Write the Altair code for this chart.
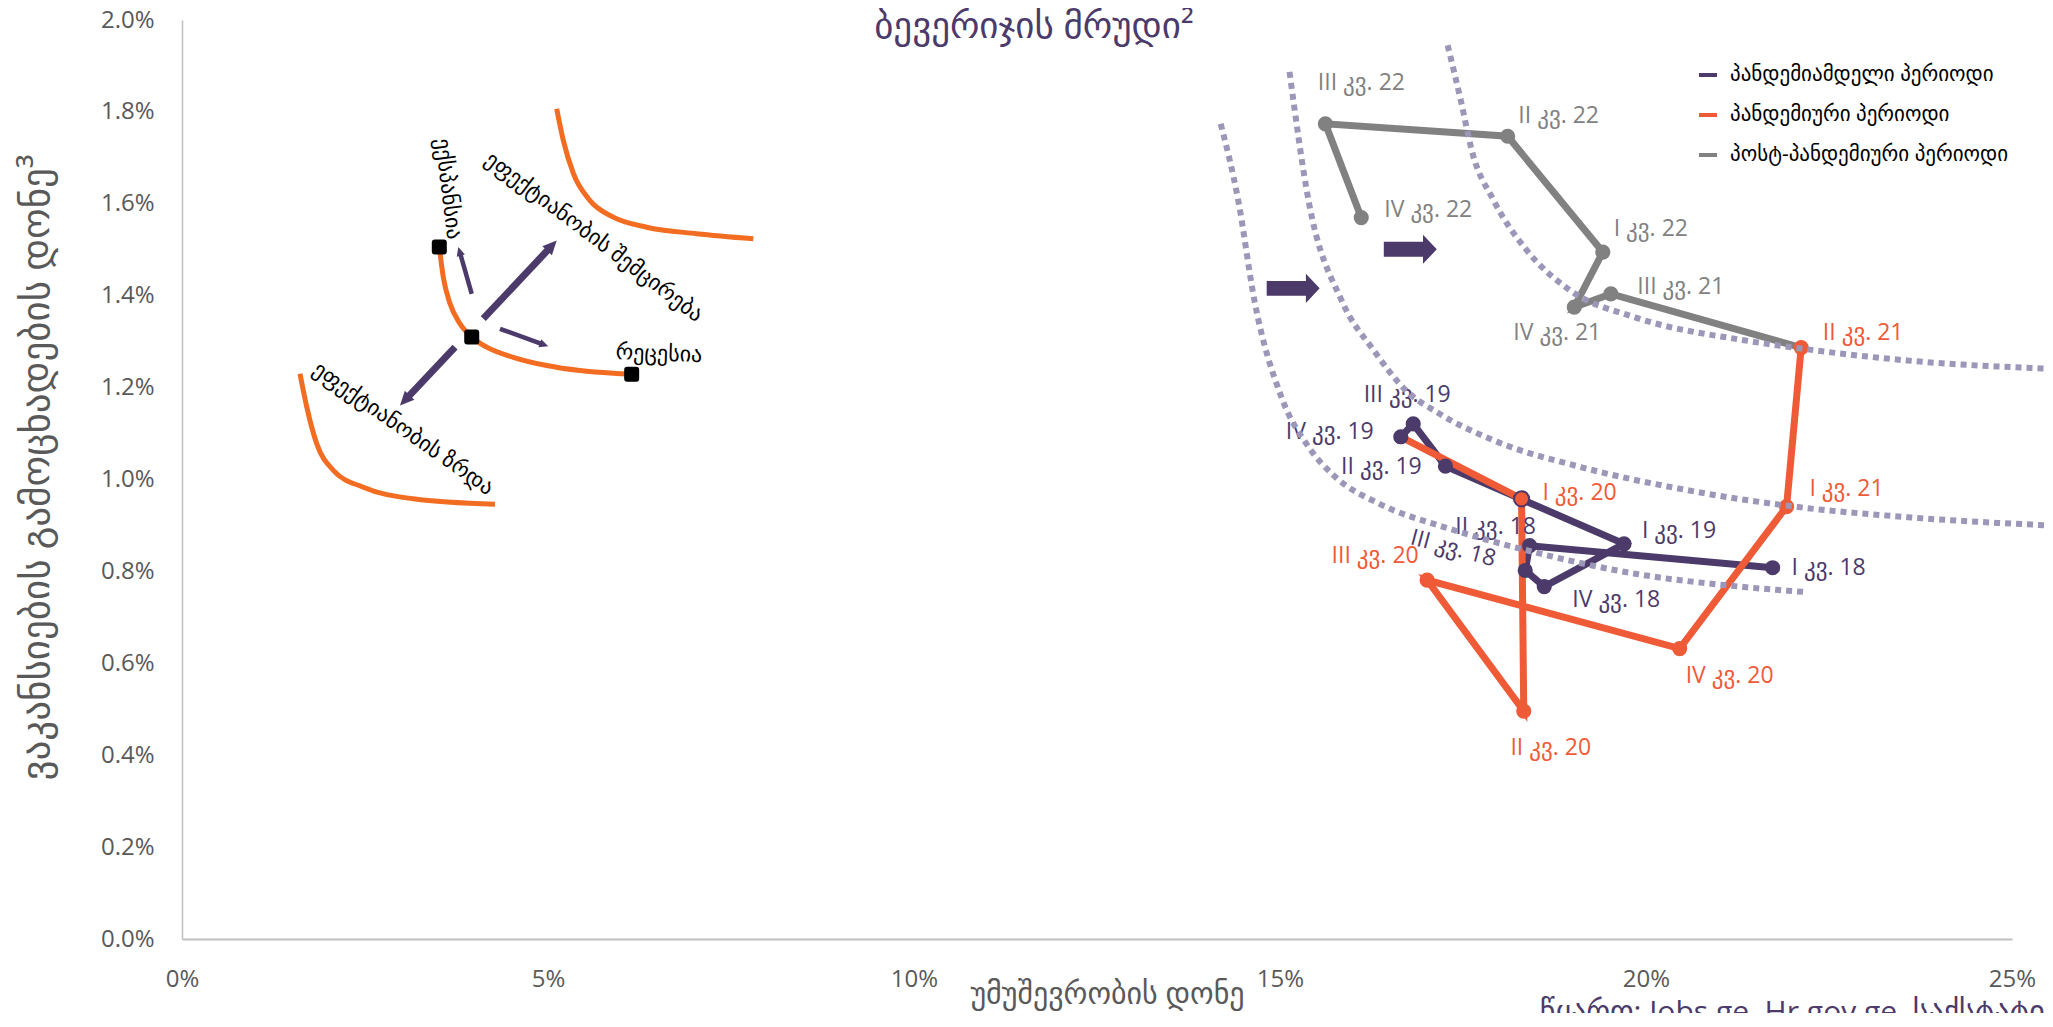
import math
import altair as alt
import pandas as pd

# ---------------- data ----------------
quarters = ["I კვ. 18", "II კვ. 18", "III კვ. 18", "IV კვ. 18",
            "I კვ. 19", "II კვ. 19", "III კვ. 19", "IV კვ. 19",
            "I კვ. 20", "II კვ. 20", "III კვ. 20", "IV კვ. 20",
            "I კვ. 21", "II კვ. 21", "III კვ. 21", "IV კვ. 21",
            "I კვ. 22", "II კვ. 22", "III კვ. 22", "IV კვ. 22"]
unemployment = [21.73, 18.41, 18.35, 18.61, 19.70, 17.26, 16.82, 16.65,
                18.30, 18.33, 17.01, 20.46, 21.92, 22.12, 19.52, 19.02,
                19.41, 18.11, 15.62, 16.11]
vacancies = [0.808, 0.856, 0.802, 0.767, 0.860, 1.029, 1.121, 1.093,
             0.958, 0.496, 0.781, 0.632, 0.941, 1.287, 1.404, 1.375,
             1.495, 1.747, 1.774, 1.570]

series_names = ["პანდემიამდელი პერიოდი", "პანდემიური პერიოდი", "პოსტ-პანდემიური პერიოდი"]
quarter_series = [0] * 8 + [1] * 6 + [2] * 6
series_first = [0, 7, 13]
series_last = [7, 13, 19]

# Beveridge (dotted) curves
curve_a_x = [14.19, 14.43, 14.65, 15.02, 15.39, 15.76, 16.36, 17.25, 18.37, 19.85, 21.34, 22.19]
curve_a_y = [1.774, 1.607, 1.390, 1.179, 1.071, 1.005, 0.947, 0.896, 0.846, 0.795, 0.766, 0.755]
curve_b_x = [15.13, 15.39, 15.84, 16.28, 16.72, 17.18, 17.92, 19.11, 20.59, 22.08, 23.57, 25.65]
curve_b_y = [1.887, 1.607, 1.390, 1.281, 1.194, 1.143, 1.085, 1.027, 0.976, 0.940, 0.918, 0.899]
curve_c_x = [17.29, 17.47, 17.62, 17.92, 18.37, 18.96, 19.85, 21.34, 22.12, 23.57, 25.65]
curve_c_y = [1.945, 1.825, 1.716, 1.607, 1.499, 1.412, 1.353, 1.303, 1.285, 1.259, 1.240]

# block arrows (shift of the curve)
shift_arrow_x = [15.18, 16.78]
shift_arrow_y = [1.416, 1.501]

# schematic Beveridge curves
sch_mid_x = [3.515, 3.570, 3.661, 3.798, 3.958, 4.163, 4.526, 4.982, 5.437, 5.892, 6.143]
sch_mid_y = [1.506, 1.440, 1.383, 1.339, 1.310, 1.288, 1.266, 1.248, 1.237, 1.231, 1.229]
sch_up_x = [5.119, 5.209, 5.346, 5.574, 5.892, 6.348, 7.031, 7.805]
sch_up_y = [1.807, 1.738, 1.666, 1.607, 1.571, 1.549, 1.535, 1.524]
sch_low_x = [1.612, 1.704, 1.840, 2.067, 2.477, 3.160, 4.276]
sch_low_y = [1.230, 1.158, 1.078, 1.020, 0.983, 0.958, 0.946]
sch_square_idx = [0, 4, 10]

# schematic arrows: start -> tip
sch_arrow_x1 = [3.958, 4.116, 4.344, 3.730]
sch_arrow_y1 = [1.404, 1.350, 1.328, 1.288]
sch_arrow_x2 = [3.775, 5.119, 5.004, 2.978]
sch_arrow_y2 = [1.506, 1.520, 1.290, 1.161]
sch_arrow_thick = [False, True, False, True]

sch_labels = ["ექსპანსია", "ეფექტიანობის შემცირება", "რეცესია", "ეფექტიანობის ზრდა"]
sch_label_x = [3.638, 5.628, 6.516, 3.023]
sch_label_y = [1.633, 1.528, 1.274, 1.111]

chart_title = "ბევერიჯის მრუდი²"
source_text = "წყარო: Jobs.ge, Hr.gov.ge, საქსტატი"

# ---------------- styles ----------------
PURPLE = "#4B3A6A"
ORANGE = "#EF5A37"
GRAY = "#818181"
DOT = "#9C96B8"
SCH_ORANGE = "#F26C22"
SERIES_COLORS = [PURPLE, ORANGE, GRAY]
FONT = "Open Sans, DejaVu Sans, sans-serif"
AXIS_GRAY = "#595959"

W, H = 1830, 919
XMAX, YMAX = 25.0, 2.0
SX, SY = W / XMAX, H / YMAX

# label placement (pixel offsets of label centre from point, rotation)
LABEL_OFFSETS = {
    "I კვ. 18": (56, 0, 0), "II კვ. 18": (-34, -19, 0), "III კვ. 18": (-72, -22, 15),
    "IV კვ. 18": (72, 13, 0), "I კვ. 19": (55, -13, 0), "II კვ. 19": (-64, 1, 0),
    "III კვ. 19": (-6, -29, 0), "IV კვ. 19": (-71, -5, 0), "I კვ. 20": (58, -6, 0),
    "II კვ. 20": (27, 37, 0), "III კვ. 20": (-52, -24, 0), "IV კვ. 20": (50, 27, 0),
    "I კვ. 21": (60, -18, 0), "II კვ. 21": (62, -15, 0), "III კვ. 21": (70, -7, 0),
    "IV კვ. 21": (-17, 26, 0), "I კვ. 22": (48, -23, 0), "II კვ. 22": (51, -20, 0),
    "III კვ. 22": (36, -41, 0), "IV კვ. 22": (67, -8, 0),
}
SCH_LABEL_ANGLES = [83, 37, 2, 35]

BLOCK_ARROW = "M -1 -0.28 L 0.48 -0.28 L 0.48 -0.55 L 1 0 L 0.48 0.55 L 0.48 0.28 L -1 0.28 Z"
HEAD = "M 0 0 L 0.75 1.6 L -0.75 1.6 Z"
ROUND_SQ = ("M -1 -0.6 Q -1 -1 -0.6 -1 L 0.6 -1 Q 1 -1 1 -0.6 L 1 0.6 Q 1 1 0.6 1 "
            "L -0.6 1 Q -1 1 -1 0.6 Z")

# ---------------- tables ----------------
pts = pd.DataFrame({
    "q": quarters, "x": unemployment, "y": vacancies,
    "series": [series_names[s] for s in quarter_series],
    "col": [SERIES_COLORS[s] for s in quarter_series],
})
pts["lx"] = [x + LABEL_OFFSETS[q][0] / SX for x, q in zip(pts.x, pts.q)]
pts["ly"] = [y - LABEL_OFFSETS[q][1] / SY for y, q in zip(pts.y, pts.q)]
pts["ang"] = [LABEL_OFFSETS[q][2] for q in pts.q]

line_rows = []
for s in range(3):
    for k, i in enumerate(range(series_first[s], series_last[s] + 1)):
        line_rows.append({"series": series_names[s], "x": unemployment[i],
                          "y": vacancies[i], "seq": k})
lines_df = pd.DataFrame(line_rows)

dotted_rows = []
for name, xs_, ys_ in [("a", curve_a_x, curve_a_y), ("b", curve_b_x, curve_b_y),
                       ("c", curve_c_x, curve_c_y)]:
    for k, (x, y) in enumerate(zip(xs_, ys_)):
        dotted_rows.append({"curve": name, "x": x, "y": y, "seq": k})
dotted_df = pd.DataFrame(dotted_rows)

sch_rows = []
for name, xs_, ys_ in [("mid", sch_mid_x, sch_mid_y), ("up", sch_up_x, sch_up_y),
                       ("low", sch_low_x, sch_low_y)]:
    for k, (x, y) in enumerate(zip(xs_, ys_)):
        sch_rows.append({"curve": name, "x": x, "y": y, "seq": k})
sch_df = pd.DataFrame(sch_rows)

sq_df = pd.DataFrame({"x": [sch_mid_x[i] for i in sch_square_idx],
                      "y": [sch_mid_y[i] for i in sch_square_idx]})

rule_rows, head_rows = [], []
for x1, y1, x2, y2, thick in zip(sch_arrow_x1, sch_arrow_y1, sch_arrow_x2,
                                 sch_arrow_y2, sch_arrow_thick):
    dxp = (x2 - x1) * SX
    dyp = -(y2 - y1) * SY
    length = math.hypot(dxp, dyp)
    head_len = 14 if thick else 9
    f = 1 - head_len * 0.8 / length
    rule_rows.append({"x": x1, "y": y1, "x2": x1 + (x2 - x1) * f,
                      "y2": y1 + (y2 - y1) * f, "w": 7 if thick else 4.5})
    ang = math.degrees(math.atan2(dxp, -dyp)) % 360
    r = head_len / 1.6
    head_rows.append({"x": x2, "y": y2, "ang": ang, "size": (2 * r) ** 2})
rule_df = pd.DataFrame(rule_rows)
head_df = pd.DataFrame(head_rows)

shift_df = pd.DataFrame({"x": shift_arrow_x, "y": shift_arrow_y})
schlab_df = pd.DataFrame({"t": sch_labels, "x": sch_label_x, "y": sch_label_y,
                          "ang": SCH_LABEL_ANGLES})
src_df = pd.DataFrame({"t": [source_text], "x": [18.55], "y": [-0.128]})
title_df = pd.DataFrame({"t": [chart_title]})

# ---------------- scales & axes ----------------
xs = alt.Scale(domain=[0, XMAX], nice=False, zero=False)
ys = alt.Scale(domain=[0, YMAX], nice=False, zero=False)
xaxis = alt.Axis(values=[0, 5, 10, 15, 20, 25], labelExpr="datum.value + '%'",
                 title="უმუშევრობის დონე", grid=False, ticks=False, tickSize=0,
                 domainColor="#BFBFBF", domainWidth=2, labelFont=FONT, labelFontSize=24,
                 labelColor=AXIS_GRAY, labelPadding=40, labelBaseline="middle",
                 labelFlush=False, titleFont=FONT, titleFontSize=30,
                 titleColor=AXIS_GRAY, titleFontWeight="normal", titleX=925, titleY=55,
                 titleBaseline="middle", titleAlign="center")
yaxis = alt.Axis(values=[0, 0.2, 0.4, 0.6, 0.8, 1.0, 1.2, 1.4, 1.6, 1.8, 2.0],
                 labelExpr="format(datum.value, '.1f') + '%'",
                 title="ვაკანსიების გამოცხადების დონე³", grid=False, ticks=False,
                 tickSize=0, domainColor="#BFBFBF", domainWidth=1.5, labelFont=FONT,
                 labelFontSize=24, labelColor=AXIS_GRAY, labelPadding=28,
                 labelFlush=False, titleFont=FONT, titleFontSize=39,
                 titleColor=AXIS_GRAY, titleFontWeight="normal", titleX=-146,
                 titleY=447, titleAngle=270, titleBaseline="middle",
                 titleAlign="center")


def X(f="x"):
    return alt.X(f, type="quantitative", scale=xs, axis=xaxis)


def Y(f="y"):
    return alt.Y(f, type="quantitative", scale=ys, axis=yaxis)


# ---------------- layers ----------------
lines = alt.Chart(lines_df).mark_line(strokeWidth=7).encode(
    x=X(), y=Y(),
    color=alt.Color("series:N",
                    scale=alt.Scale(domain=series_names, range=SERIES_COLORS),
                    legend=alt.Legend(title=None, orient="none", legendX=1515, legendY=44,
                                      symbolType="stroke", symbolStrokeWidth=4,
                                      symbolSize=324, labelFont=FONT, labelFontSize=21,
                                      labelColor="black", rowPadding=19, labelOffset=11,
                                      labelLimit=0, padding=0)),
    detail="series:N",
    order="seq:Q",
)

markers = alt.Chart(pts).mark_circle(size=230, opacity=1).encode(
    x=X(), y=Y(), color=alt.Color("col:N", scale=None))

marker_i20 = alt.Chart(pts).mark_circle(size=230, opacity=1, fill=ORANGE, stroke=PURPLE,
                                        strokeWidth=2).encode(
    x=X(), y=Y()).transform_filter(alt.datum.q == "I კვ. 20")

labels = alt.Chart(pts).mark_text(font=FONT, fontSize=23, align="center",
                                  baseline="middle").encode(
    x=X("lx"), y=Y("ly"), text="q:N", color=alt.Color("col:N", scale=None),
    angle=alt.Angle("ang:Q", scale=None))

dotted = alt.Chart(dotted_df).mark_line(strokeDash=[6, 5], strokeWidth=6, color=DOT,
                                        interpolate="monotone", clip=False).encode(
    x=X(), y=Y(), detail="curve:N", order="seq:Q")

shift = alt.Chart(shift_df).mark_point(shape=BLOCK_ARROW, size=2809, filled=True,
                                       opacity=1, color=PURPLE, strokeWidth=0).encode(
    x=X(), y=Y())

sch_curves = alt.Chart(sch_df).mark_line(strokeWidth=5, color=SCH_ORANGE,
                                         interpolate="monotone").encode(
    x=X(), y=Y(), detail="curve:N", order="seq:Q")

sch_rules = alt.Chart(rule_df).mark_rule(color=PURPLE).encode(
    x=X(), y=Y(), x2="x2:Q", y2="y2:Q", strokeWidth=alt.StrokeWidth("w:Q", scale=None))

sch_heads = alt.Chart(head_df).mark_point(shape=HEAD, filled=True, opacity=1,
                                          color=PURPLE, strokeWidth=0).encode(
    x=X(), y=Y(), angle=alt.Angle("ang:Q", scale=None),
    size=alt.Size("size:Q", scale=None))

sch_squares = alt.Chart(sq_df).mark_point(shape=ROUND_SQ, size=225, filled=True,
                                          opacity=1, color="black", strokeWidth=0).encode(
    x=X(), y=Y())

sch_text = alt.Chart(schlab_df).mark_text(font=FONT, fontSize=22, color="black",
                                          align="center", baseline="middle").encode(
    x=X(), y=Y(), text="t:N", angle=alt.Angle("ang:Q", scale=None))

source = alt.Chart(src_df).mark_text(font=FONT, fontSize=30, color=PURPLE, align="left",
                                     baseline="top", clip=False).encode(
    x=X(), y=Y(), text="t:N")

title = alt.Chart(title_df).mark_text(font=FONT, fontSize=37, color=PURPLE, align="center",
                                      baseline="middle").encode(
    x=alt.value(852), y=alt.value(7), text="t:N")

chart = alt.layer(
    lines, markers, marker_i20, labels, dotted, shift,
    sch_curves, sch_rules, sch_heads, sch_squares, sch_text, source, title,
).properties(
    width=W, height=H,
    autosize=alt.AutoSizeParams(type="none"),
    padding={"left": 174, "top": 12, "right": 33, "bottom": 74},
).configure_view(stroke=None)

chart.save("out.html", embed_options={"renderer": "svg", "actions": False})
